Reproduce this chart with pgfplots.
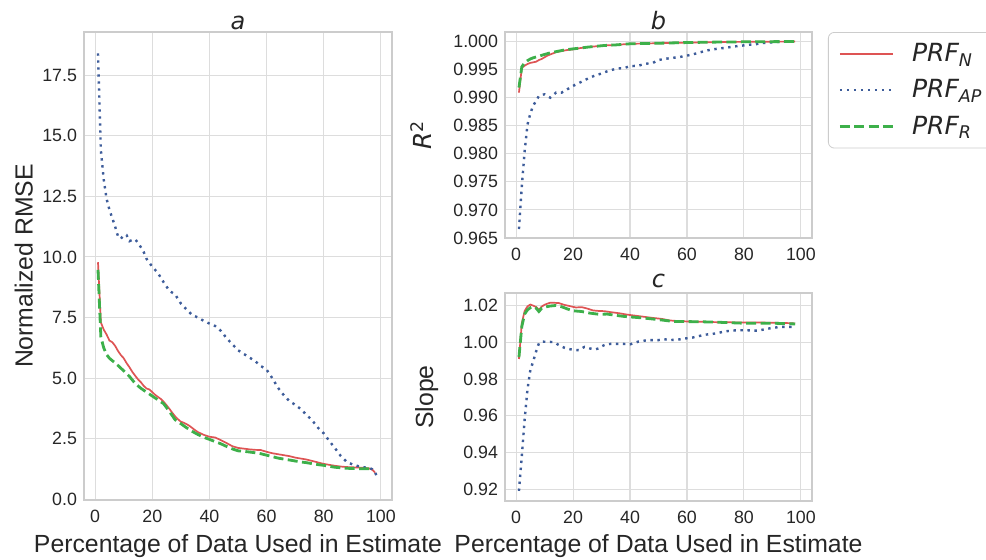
\documentclass[border=0pt]{standalone}
\usepackage{fontspec}
\setmainfont{Liberation Sans}
\newfontfamily\dejavu{DejaVu Sans}
\usepackage{pgfplots}
\pgfplotsset{compat=1.18}

\definecolor{cN}{HTML}{DE5454}
\definecolor{cAP}{HTML}{3D5C9A}
\definecolor{cR}{HTML}{3DB04A}
\definecolor{gridc}{HTML}{DDDDDD}
\definecolor{edgec}{HTML}{CCCCCC}
\definecolor{labc}{HTML}{262626}

\pgfplotsset{
  prfpanel/.style={
    scale only axis,
    xmin=-3.9, xmax=103.9,
    xtick={0,20,...,100},
    grid=major,
    grid style={color=gridc, line width=0.55pt},
    axis line style={color=edgec, line width=0.7pt},
    major tick length=0pt,
    tick label style={font=\fontsize{8.9}{10}\selectfont, text=labc},
    /pgf/number format/assume math mode=true,
    xticklabel style={yshift=-1.6pt},
    label style={font=\fontsize{12.4}{14}\selectfont, text=labc},
    every axis title shift=0pt,
    title style={font=\fontsize{12}{14}\selectfont\dejavu\itshape, text=labc,
      at={(0.5,1)}, anchor=base, yshift=1.5pt},
  },
  sN/.style={color=cN, line width=0.85pt},
  sAP/.style={color=cAP, line width=1.2pt, dash pattern=on 1.2pt off 2.3pt},
  sR/.style={color=cR, line width=1.4pt, dash pattern=on 5pt off 2.2pt},
}

\begin{document}
\begin{tikzpicture}
\useasboundingbox[fill=white] (0pt,0pt) rectangle (493pt,279.5pt);

% a: normalized RMSE
\begin{axis}[prfpanel,
    at={(42pt,29.5pt)}, anchor=south west,
    width=154pt, height=234pt,
    ymin=-0.03, ymax=19.28,
    ytick={0,2.5,...,17.5},
    yticklabel style={/pgf/number format/.cd, fixed, fixed zerofill, precision=1},
    title={a},
    ylabel={Normalized RMSE},
    ylabel style={at={(axis description cs:-0.167,0.5)}, anchor=base},
    xlabel={Percentage of Data Used in Estimate},
    xlabel style={at={(axis description cs:0.5,-0.1126)}, anchor=base},
]
\addplot[sN] coordinates {
(1,9.78)(2,7.3)(3,7.0)(4,6.8)(5,6.55)(6,6.48)(7,6.33)(8,6.12)(9,5.95)(10,5.82)
(11,5.62)(12,5.45)(13,5.26)(14,5.1)(15,4.95)(16,4.83)(17,4.68)(18,4.57)(19,4.53)(20,4.42)
(21,4.31)(22,4.22)(23,4.14)(24,4.02)(25,3.88)(26,3.73)(27,3.57)(28,3.42)(29,3.3)(30,3.2)
(31,3.16)(32,3.1)(33,3.03)(34,2.94)(35,2.85)(36,2.77)(38,2.66)(40,2.58)(42,2.55)(44,2.44)
(46,2.32)(48,2.19)(50,2.12)(52,2.09)(54,2.06)(56,2.04)(58,2.03)(60,1.96)(62,1.9)(64,1.86)
(66,1.82)(68,1.78)(70,1.72)(72,1.68)(74,1.64)(76,1.58)(78,1.52)(80,1.46)(82,1.42)(84,1.38)
(86,1.35)(88,1.33)(90,1.32)(92,1.31)(94,1.3)(96,1.27)(97,1.22)(98,1.1)
};
\addplot[sAP] coordinates {
(1,18.4)(2,14.4)(3,13.2)(4,12.4)(5,11.95)(6,11.6)(7,11.25)(8,10.85)(9,10.75)(10,10.9)
(11,10.9)(12,10.65)(13,10.7)(14,10.73)(15,10.58)(16,10.4)(17,10.2)(18,9.92)(19,9.75)(20,9.6)
(22,9.33)(24,8.95)(26,8.6)(28,8.45)(30,8.08)(32,7.83)(34,7.6)(36,7.5)(38,7.36)(40,7.25)
(42,7.15)(44,6.95)(46,6.65)(48,6.4)(50,6.15)(52,6.0)(54,5.85)(56,5.7)(58,5.5)(60,5.35)
(62,5.0)(64,4.6)(66,4.3)(68,4.05)(70,3.9)(72,3.72)(74,3.48)(76,3.25)(78,2.95)(80,2.72)
(82,2.4)(84,2.1)(86,1.78)(88,1.55)(90,1.44)(92,1.37)(94,1.32)(96,1.29)(97,1.24)(98,1.1)(99,0.85)
};
\addplot[sR] coordinates {
(1,9.47)(2,6.7)(3,6.25)(4,5.97)(5,5.82)(6,5.72)(7,5.63)(8,5.52)(9,5.41)(10,5.3)
(12,5.07)(14,4.78)(16,4.58)(18,4.42)(20,4.26)(22,4.1)(24,3.94)(26,3.62)(28,3.28)(30,3.12)
(32,2.95)(34,2.8)(36,2.67)(38,2.56)(40,2.47)(42,2.38)(44,2.29)(46,2.18)(48,2.08)(50,2.0)
(52,1.98)(54,1.95)(56,1.92)(58,1.88)(60,1.82)(62,1.76)(64,1.7)(66,1.66)(68,1.62)(70,1.58)
(72,1.54)(74,1.51)(76,1.47)(78,1.43)(80,1.4)(82,1.36)(84,1.32)(86,1.3)(88,1.28)(90,1.27)
(92,1.26)(94,1.26)(96,1.26)(97,1.18)
};
\end{axis}

% b: R^2
\begin{axis}[prfpanel,
    at={(252.5pt,160.5pt)}, anchor=south west,
    width=153.5pt, height=103pt,
    ymin=0.9650, ymax=1.0017,
    ytick={0.965,0.970,...,1.0001},
    yticklabel style={/pgf/number format/.cd, fixed, fixed zerofill, precision=3},
    title={b},
    ylabel={{\dejavu\itshape R}\textsuperscript{\dejavu 2}},
    ylabel style={at={(axis description cs:-0.238,0.5)}, anchor=base},
    legend style={at={(axis description cs:1.052,1)}, anchor=north west,
      draw=edgec, rounded corners=3pt, fill=white,
      font=\fontsize{12.5}{14}\selectfont\dejavu\itshape,
      inner xsep=5pt, inner ysep=3.5pt, row sep=3.5pt,
      cells={anchor=west},
      /tikz/every odd column/.append style={column sep=7pt}},
    legend image code/.code={%
      \draw[#1] (0pt,0pt) -- (26.5pt,0pt);},
]
\addplot[sN] coordinates {
(1,0.9909)(2,0.9953)(3,0.9957)(4,0.9960)(5,0.9962)(6,0.9963)(7,0.9964)(8,0.9967)(9,0.9969)(10,0.9972)
(11,0.9975)(12,0.9977)(13,0.9979)(14,0.9981)(16,0.9983)(18,0.9985)(20,0.9986)(22,0.9988)(25,0.9990)
(28,0.99915)(31,0.9993)(35,0.9994)(40,0.9996)(45,0.99965)(50,0.9997)(60,0.99982)(70,0.9999)
(80,0.99995)(90,0.99998)(98,1.0)
};
\addplot[sAP] coordinates {
(1,0.9666)(2,0.9742)(3,0.9805)(4,0.9852)(5,0.9872)(6,0.9886)(7,0.9894)(8,0.9903)(9,0.9905)(10,0.9906)
(12,0.9900)(14,0.9909)(16,0.9909)(18,0.9915)(20,0.9921)(22,0.9926)(24,0.9931)(26,0.9936)(28,0.9940)
(30,0.9943)(32,0.9947)(34,0.9950)(36,0.9952)(38,0.9953)(40,0.9956)(43,0.9957)(45,0.9960)(48,0.9962)
(50,0.9967)(52,0.9969)(55,0.9971)(57,0.9972)(60,0.9975)(62,0.9977)(64,0.9980)(67,0.9984)(69,0.9986)
(72,0.9988)(74,0.9989)(76,0.9991)(79,0.99925)(81,0.9994)(84,0.9995)(86,0.9997)(88,0.9998)(91,0.9999)
(93,0.99995)(96,1.0)(98,1.0)
};
\addplot[sR] coordinates {
(1,0.9918)(2,0.9955)(3,0.9962)(4,0.9966)(5,0.9969)(6,0.9971)(8,0.9974)(10,0.9977)(12,0.9980)
(14,0.9982)(17,0.9985)(20,0.9987)(22,0.9988)(25,0.9990)(28,0.99915)(31,0.9993)(35,0.9994)
(40,0.9996)(45,0.99965)(50,0.9997)(60,0.99982)(70,0.9999)(80,0.99995)(90,0.99998)(98,1.0)
};
\legend{\textcolor{labc}{PRF\textsubscript{N}}, \textcolor{labc}{PRF\textsubscript{AP}}, \textcolor{labc}{PRF\textsubscript{R}}}
\end{axis}

% c: slope
\begin{axis}[prfpanel,
    at={(252.5pt,29pt)}, anchor=south west,
    width=153.5pt, height=104pt,
    ymin=0.9135, ymax=1.027,
    ytick={0.92,0.94,...,1.021},
    yticklabel style={/pgf/number format/.cd, fixed, fixed zerofill, precision=2},
    title={c},
    title style={yshift=1.5pt},
    ylabel={Slope},
    ylabel style={at={(axis description cs:-0.2345,0.5)}, anchor=base},
    xlabel={Percentage of Data Used in Estimate},
    xlabel style={at={(axis description cs:0.5,-0.2486)}, anchor=base},
]
\addplot[sN] coordinates {
(1,0.9910)(2,1.0105)(3,1.0172)(4,1.0197)(5,1.0207)(6,1.0201)(7,1.0194)(8,1.0178)(9,1.0196)(10,1.0206)
(11,1.0212)(12,1.0217)(13,1.0217)(15,1.0215)(17,1.0205)(19,1.0198)(21,1.0191)(23,1.0193)(25,1.0185)
(27,1.0175)(29,1.0172)(31,1.0171)(33,1.0166)(36,1.0160)(39,1.0152)(42,1.0146)(45,1.0140)(48,1.0134)
(51,1.0129)(54,1.0120)(57,1.0117)(61,1.0114)(65,1.0113)(70,1.0111)(75,1.0110)(80,1.0109)(85,1.0109)
(90,1.0108)(95,1.0106)(98,1.0104)
};
\addplot[sAP] coordinates {
(1,0.919)(2,0.938)(3,0.958)(4,0.9745)(5,0.985)(6,0.9897)(7,0.995)(8,0.9995)(9,1.0005)(10,1.0004)
(11,1.0003)(12,1.0003)(13,1.0002)(14,0.9995)(15,0.9986)(16,0.9978)(17,0.9971)(18,0.9966)(19,0.9963)
(20,0.9961)(21,0.9959)(22,0.9958)(23,0.9967)(24,0.9976)(25,0.9972)(26,0.9967)(27,0.9965)(28,0.9963)
(29,0.9968)(30,0.9978)(31,0.9986)(32,0.9990)(33,0.9992)(35,0.9992)(38,0.9992)(40,0.9990)(42,1.0000)
(43,1.0005)(45,1.0010)(47,1.0013)(50,1.0013)(52,1.0018)(54,1.0013)(57,1.0016)(59,1.0021)(62,1.0027)
(64,1.0034)(66,1.0042)(69,1.0047)(71,1.0052)(73,1.0060)(76,1.0065)(78,1.0067)(81,1.0067)(83,1.0065)
(85,1.0065)(88,1.0074)(90,1.0080)(93,1.0085)(95,1.0085)(98,1.0085)
};
\addplot[sR] coordinates {
(1,0.9920)(2,1.0087)(3,1.0155)(4,1.0178)(5,1.0190)(6,1.0196)(7,1.0188)(8,1.0169)(9,1.0187)(10,1.0193)
(12,1.0199)(14,1.0202)(16,1.0195)(18,1.0183)(20,1.0173)(23,1.0169)(26,1.0160)(29,1.0154)(32,1.0155)
(35,1.0148)(38,1.0142)(42,1.0137)(45,1.0133)(48,1.0128)(52,1.0121)(55,1.0115)(60,1.0114)(65,1.0113)
(70,1.0111)(75,1.0108)(80,1.0105)(85,1.0105)(90,1.0105)(95,1.0103)(98,1.0101)
};
\end{axis}
\end{tikzpicture}
\end{document}
